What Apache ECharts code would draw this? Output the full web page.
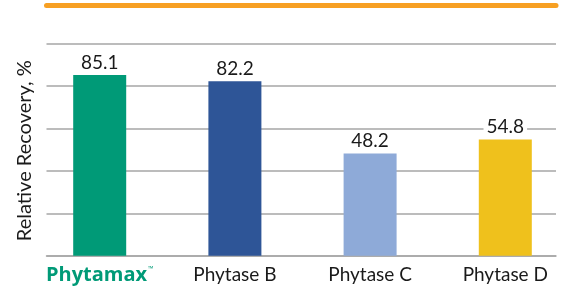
<!DOCTYPE html>
<html><head><meta charset="utf-8">
<script src="https://cdn.jsdelivr.net/npm/echarts@6/dist/echarts.min.js"></script>
<style>html,body{margin:0;padding:0;background:#fff;overflow:hidden}#c{width:600px;height:288px}</style>
</head><body><div id="c"></div>
<script>
const categories = ['Phytamax', 'Phytase B', 'Phytase C', 'Phytase D'];
const values = [85.1, 82.2, 48.2, 54.8];
const barColors = ['#009a77', '#2e5597', '#8eaad8', '#efc11c'];
const yTicks = [0, 20, 40, 60, 80, 100];
const yAxisTitle = 'Relative Recovery, %';

const FONT = 'Lato';
const YMAX = 118;
const chart = echarts.init(document.getElementById('c'), null, {renderer: 'canvas'});
chart.setOption({
  animation: false,
  grid: [
    {left: 46.5, width: 509.5, top: 5.3, bottom: 32.3},
    {left: 32.1, width: 540.8, top: 5.3, bottom: 32.3},
    {left: 46.5, width: 509.5, top: 46, bottom: 32.6}
  ],
  xAxis: [
    {gridIndex: 0, type: 'value', min: 0, max: 1, position: 'bottom',
     axisLine: {show: true, lineStyle: {color: '#a6a6a6', width: 1.5}},
     axisTick: {show: false}, axisLabel: {show: false}, splitLine: {show: false}},
    {gridIndex: 0, type: 'value', min: 0, max: 1, position: 'top',
     axisLine: {show: true, onZero: false, lineStyle: {color: '#f7a023', width: 5}},
     axisTick: {show: false}, axisLabel: {show: false}, splitLine: {show: false}},
    {gridIndex: 1, type: 'category', data: categories,
     axisLine: {show: false}, axisTick: {show: false},
     axisLabel: {
       interval: 0, hideOverlap: false,
       margin: 10, fontFamily: FONT, fontSize: 19, color: '#1a1a1a',
       formatter: function (v, i) { return i === 0 ? '{b|' + v + '}{tm|™}' : v; },
       rich: {
         b: {fontFamily: 'Open Sans', fontWeight: 'bold', fontSize: 20, color: '#009a77'},
         tm: {fontFamily: 'Open Sans', fontSize: 7, color: '#009a77', verticalAlign: 'top', padding: [0, 0, 10, 1]}
       }
     }},
    {gridIndex: 2, type: 'value', show: false}
  ],
  yAxis: [
    {gridIndex: 0, type: 'value', min: 0, max: YMAX, interval: 20,
     axisLine: {show: false}, axisTick: {show: false}, axisLabel: {show: false},
     splitLine: {show: true, lineStyle: {color: '#a6a6a6', width: 1.5},
       showMaxLine: false}},
    {gridIndex: 1, type: 'value', min: 0, max: YMAX, interval: 20, show: false},
    {gridIndex: 2, type: 'value', min: 0, max: 1,
     name: yAxisTitle, nameLocation: 'middle', nameRotate: 90, nameGap: 12,
     nameTextStyle: {fontFamily: FONT, fontSize: 20, color: '#1a1a1a'},
     axisLine: {show: false}, axisTick: {show: false}, axisLabel: {show: false}, splitLine: {show: false}}
  ],
  series: [{
    type: 'bar', xAxisIndex: 2, yAxisIndex: 1,
    barWidth: 53,
    data: values.map((v, i) => ({value: v, itemStyle: {color: barColors[i]}})),
    label: {show: true, position: 'top', distance: 3, fontFamily: FONT, fontSize: 19, color: '#1a1a1a',
      backgroundColor: '#fff', padding: [0, 3, 0, 3]}
  }]
});
</script></body></html>
